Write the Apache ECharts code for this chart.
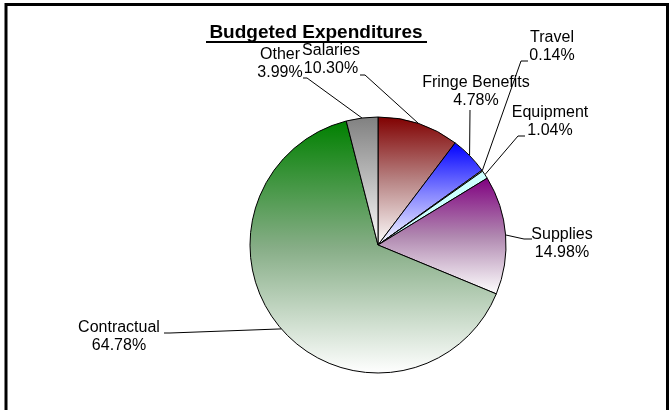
<!DOCTYPE html>
<html>
<head>
<meta charset="utf-8">
<script src="https://cdn.jsdelivr.net/npm/echarts@6/dist/echarts.min.js"></script>
<style>
  html, body { margin: 0; padding: 0; background: #fff; }
  #chart { width: 670px; height: 410px; }
</style>
</head>
<body>
<div id="chart"></div>
<script>
// data
const categories = ['Salaries', 'Fringe Benefits', 'Travel', 'Equipment', 'Supplies', 'Contractual', 'Other']
const shares = [10.30, 4.78, 0.14, 1.04, 14.98, 64.78, 3.99]

// style / layout (kept apart from the data)
const topColors = ['#800000', '#0000ff', '#ffffcc', '#ccffff', '#800080', '#008000', '#808080']
const midColors = ['#b88585', '#8585ff', '#ffffe6', '#ccffff', '#b088b0', '#86ad86', '#bdbdbd']
const bottomColors = ['#ffffff', '#ffffff', '#ffffff', '#ccffff', '#ffffff', '#ffffff', '#ffffff']
// label centres, px
const labelPos = [[331, 60], [476, 92], [552, 47], [550, 122], [562, 244], [119, 337], [280, 64]]
// where each leader line meets its label, and the short horizontal stub
const leaderEnd = [[360, 75], [470, 110], [528, 61], [525, 136], [532, 239], [164, 333], [303, 78]]
const leaderStub = [5, 0, -7, -7, -8, 6, 4]

const font = 'Liberation Sans, Arial, sans-serif'

const chart = echarts.init(document.getElementById('chart'))

const pieData = categories.map((name, i) => ({
  name: name,
  value: shares[i],
  itemStyle: {
    color: new echarts.graphic.LinearGradient(0, 0, 0, 1, [
      { offset: 0, color: topColors[i] },
      { offset: 0.5, color: midColors[i] },
      { offset: 1, color: bottomColors[i] },
    ]),
  },
}))

chart.setOption({
  animation: false,
  title: {
    text: 'Budgeted Expenditures',
    left: 316,
    top: 23,
    textAlign: 'center',
    padding: 0,
    textStyle: {
      fontFamily: font,
      fontWeight: 'bold',
      fontSize: 19,
      color: '#000',
    },
  },
  graphic: [
    {
      // title underline
      type: 'line',
      shape: { x1: 206, y1: 42, x2: 427, y2: 42 },
      style: { stroke: '#000', lineWidth: 2 },
    },
    {
      // chart frame
      type: 'rect',
      shape: { x: 6, y: 4.5, width: 661.5, height: 420 },
      style: { fill: 'none', stroke: '#000', lineWidth: 3 },
    },
  ],
  series: [
    {
      type: 'pie',
      center: [378, 245],
      radius: 128,
      startAngle: 90,
      clockwise: true,
      avoidLabelOverlap: false,
      emphasis: { disabled: true },
      itemStyle: {
        borderColor: '#000',
        borderWidth: 1,
      },
      label: {
        show: true,
        position: 'outside',
        fontFamily: font,
        fontSize: 16,
        lineHeight: 18,
        color: '#000',
        align: 'center',
        formatter: (p) => p.name + '\n' + p.value.toFixed(2) + '%',
      },
      labelLine: {
        show: true,
        length: 10,
        length2: 6,
        lineStyle: { color: '#000', width: 1 },
      },
      labelLayout: (params) => {
        const i = params.dataIndex
        const pos = labelPos[i]
        const anchor = params.labelLinePoints[0]
        const end = leaderEnd[i]
        return {
          x: pos[0],
          y: pos[1],
          align: 'center',
          verticalAlign: 'middle',
          labelLinePoints: [anchor, [end[0] + leaderStub[i], end[1]], end],
        }
      },
      data: pieData,
    },
  ],
})
</script>
</body>
</html>
